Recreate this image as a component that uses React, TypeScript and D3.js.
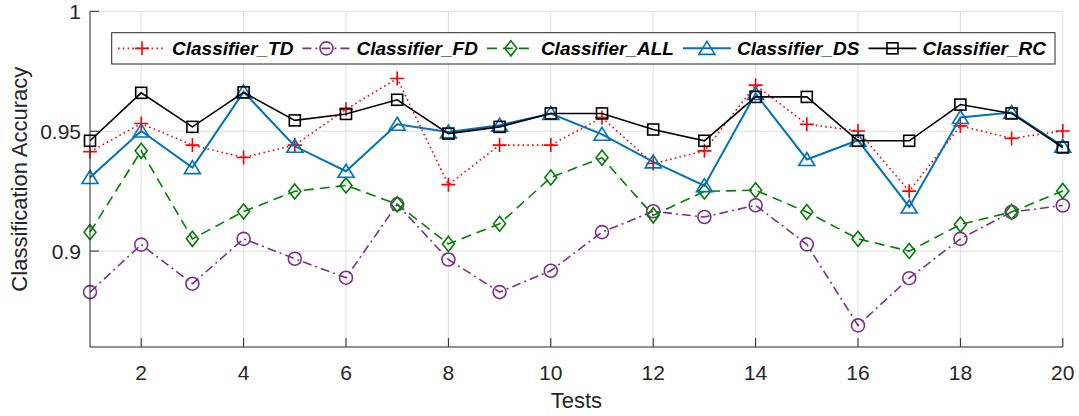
import React, { useMemo } from "react";
import * as d3 from "d3";

const tests = d3.range(1, 21);
const xTicks = [2, 4, 6, 8, 10, 12, 14, 16, 18, 20];
const yTicks = [0.9, 0.95, 1];
const yTickLabels = ["0.9", "0.95", "1"];

const tdValues = [0.9414, 0.9532, 0.9442, 0.939, 0.9442, 0.9591, 0.972, 0.9277, 0.9442, 0.9442, 0.9557, 0.9365, 0.9418, 0.9692, 0.9529, 0.9501, 0.925, 0.9522, 0.947, 0.9501];
const fdValues = [0.8829, 0.9027, 0.8864, 0.9051, 0.8968, 0.8889, 0.9195, 0.8965, 0.8829, 0.8918, 0.9079, 0.9166, 0.9142, 0.9191, 0.9028, 0.869, 0.8887, 0.9051, 0.9163, 0.919];
const allValues = [0.9079, 0.9418, 0.9051, 0.9165, 0.9249, 0.9274, 0.9195, 0.903, 0.9114, 0.9307, 0.9389, 0.9149, 0.9249, 0.9254, 0.9163, 0.9051, 0.90, 0.9111, 0.9163, 0.9251];
const dsValues = [0.9307, 0.9501, 0.9348, 0.9664, 0.9437, 0.9333, 0.9529, 0.9497, 0.9525, 0.9574, 0.9487, 0.9372, 0.9273, 0.9657, 0.9382, 0.9462, 0.9184, 0.9557, 0.9578, 0.9437];
const rcValues = [0.946, 0.966, 0.9518, 0.9662, 0.9545, 0.9572, 0.9631, 0.949, 0.9518, 0.9574, 0.9574, 0.9507, 0.946, 0.9643, 0.9643, 0.946, 0.946, 0.9611, 0.9574, 0.9432];

const seriesNames = ["Classifier_TD", "Classifier_FD", "Classifier_ALL", "Classifier_DS", "Classifier_RC"];
const seriesData = [tdValues, fdValues, allValues, dsValues, rcValues];

type Style = { color: string; dash: string; width: number; marker: string };
const styles: Style[] = [
  { color: "#ff0000", dash: "1.6,3.2", width: 1.6, marker: "plus" },
  { color: "#7e2f8e", dash: "9,4,2,4", width: 1.6, marker: "circle" },
  { color: "#008000", dash: "10,6", width: 1.6, marker: "diamond" },
  { color: "#0072bd", dash: "", width: 2, marker: "triangle" },
  { color: "#000000", dash: "", width: 1.6, marker: "square" },
];

const W = 1079;
const H = 416;
const L = 90, R = 1062.8, T = 11.3, B = 347;
const FONT = "'Liberation Sans', Arial, Helvetica, sans-serif";
const LEG_SIZE = 19;

function Marker({ type, x, y, color }: { type: string; x: number; y: number; color: string }) {
  const sw = 1.6;
  if (type === "plus")
    return <path d={`M${x - 7},${y}H${x + 7}M${x},${y - 7}V${y + 7}`} stroke={color} strokeWidth={sw} fill="none" />;
  if (type === "circle")
    return <circle cx={x} cy={y} r={6.5} stroke={color} strokeWidth={sw} fill="none" />;
  if (type === "diamond")
    return <path d={`M${x},${y - 7.5}L${x + 6},${y}L${x},${y + 7.5}L${x - 6},${y}Z`} stroke={color} strokeWidth={sw} fill="none" />;
  if (type === "triangle")
    return <path d={`M${x},${y - 7}L${x + 8},${y + 6}L${x - 8},${y + 6}Z`} stroke={color} strokeWidth={sw} fill="none" />;
  return <rect x={x - 5.5} y={y - 5.5} width={11} height={11} stroke={color} strokeWidth={sw} fill="none" />;
}

export default function App() {
  const x = d3.scaleLinear().domain([1, 20]).range([L, R]);
  const y = d3.scaleLinear().domain([0.86, 1]).range([B, T]);
  const line = d3
    .line<number>()
    .x((_, i) => x(tests[i]))
    .y((d) => y(d));

  const legendFont = `italic bold ${LEG_SIZE}px ${FONT}`;
  const widths = useMemo(() => {
    const c = document.createElement("canvas").getContext("2d");
    return seriesNames.map((n) => {
      if (!c) return n.length * 9.5;
      c.font = `italic bold ${LEG_SIZE}px 'Liberation Sans', Arial, sans-serif`;
      return c.measureText(n).width;
    });
  }, []);

  const legLeft = 111.7;
  const legTop = 32.7;
  const legH = 31.3;
  const items: { lx: number; tx: number }[] = [];
  let cur = legLeft + 6.3;
  widths.forEach((w) => {
    items.push({ lx: cur, tx: cur + 54 });
    cur = cur + 54 + w + 9;
  });
  const legRight = cur;
  const legCY = legTop + legH / 2;

  return (
    <svg width={W} height={H} style={{ position: "absolute", left: 0, top: 0, background: "#fff" }} fontFamily={FONT}>
      <rect x={0} y={0} width={W} height={H} fill="#fff" />
      {xTicks.map((t) => (
        <line key={"gx" + t} x1={x(t)} x2={x(t)} y1={T} y2={B} stroke="#dfdfdf" strokeWidth={1} />
      ))}
      {yTicks.map((t) => (
        <line key={"gy" + t} x1={L} x2={R} y1={y(t)} y2={y(t)} stroke="#dfdfdf" strokeWidth={1} />
      ))}
      {seriesData.map((vals, si) => (
        <g key={si}>
          <path d={line(vals) || ""} fill="none" stroke={styles[si].color} strokeWidth={styles[si].width} strokeDasharray={styles[si].dash} />
          {vals.map((v, i) => (
            <Marker key={i} type={styles[si].marker} x={x(tests[i])} y={y(v)} color={styles[si].color} />
          ))}
        </g>
      ))}
      <line x1={L} x2={L} y1={T} y2={B} stroke="#262626" strokeWidth={1} />
      <line x1={L} x2={R} y1={B} y2={B} stroke="#262626" strokeWidth={1} />
      {xTicks.map((t) => (
        <g key={"tx" + t}>
          <line x1={x(t)} x2={x(t)} y1={B} y2={B - 9} stroke="#262626" strokeWidth={1} />
          <text x={x(t)} y={379.5} textAnchor="middle" fontSize={21} fill="#262626">
            {t}
          </text>
        </g>
      ))}
      {yTicks.map((t, i) => (
        <g key={"ty" + t}>
          <line x1={L} x2={L + 9} y1={y(t)} y2={y(t)} stroke="#262626" strokeWidth={1} />
          <text x={81} y={y(t) + 7.5} textAnchor="end" fontSize={21} fill="#262626">
            {yTickLabels[i]}
          </text>
        </g>
      ))}
      <text x={(L + R) / 2} y={408} textAnchor="middle" fontSize={22} fill="#262626">
        Tests
      </text>
      <text transform={`translate(27,${(T + B) / 2}) rotate(-90)`} textAnchor="middle" fontSize={22} fill="#262626">
        Classification Accuracy
      </text>
      <rect x={legLeft} y={legTop} width={legRight - legLeft} height={legH} fill="#fff" stroke="#262626" strokeWidth={1} />
      {items.map((it, si) => (
        <g key={"lg" + si}>
          <line x1={it.lx} x2={it.lx + 48} y1={legCY} y2={legCY} stroke={styles[si].color} strokeWidth={styles[si].width} strokeDasharray={styles[si].dash} />
          <Marker type={styles[si].marker} x={it.lx + 24} y={legCY} color={styles[si].color} />
          <text x={it.tx} y={legCY + 6.8} style={{ font: legendFont }} fill="#000">
            {seriesNames[si]}
          </text>
        </g>
      ))}
    </svg>
  );
}
